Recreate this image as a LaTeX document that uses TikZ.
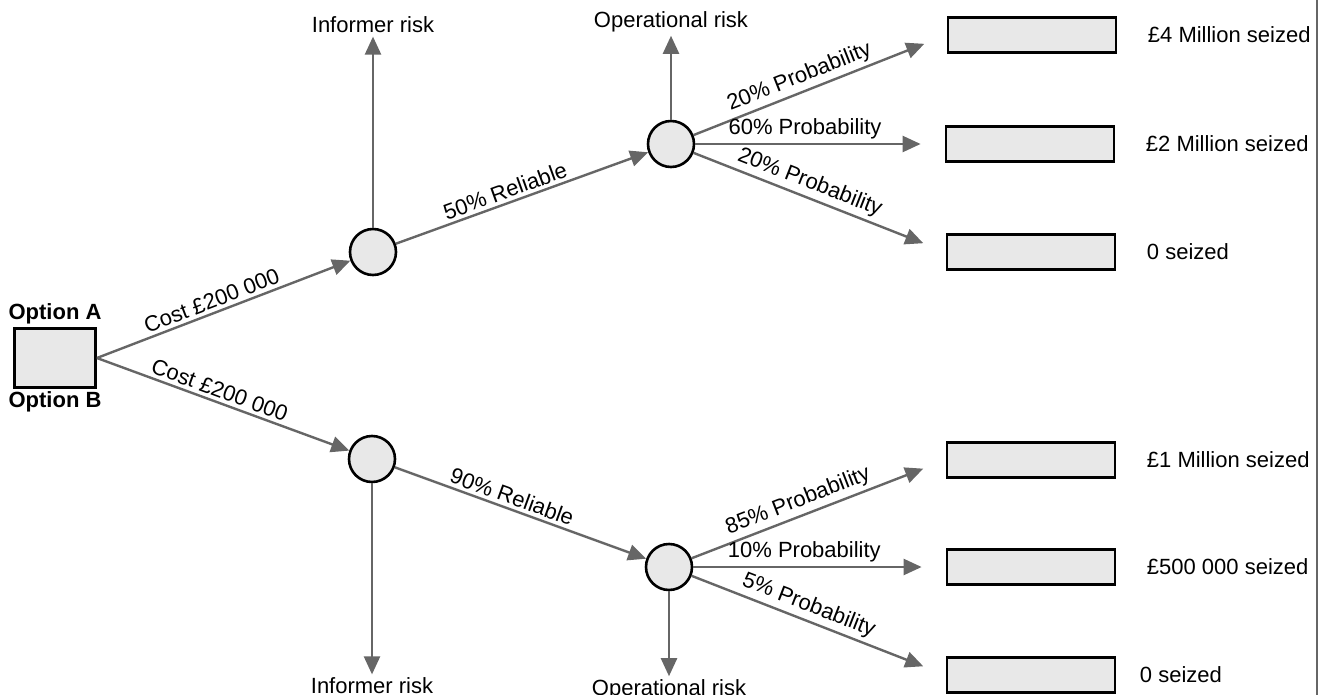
\documentclass[tikz,border=0pt]{standalone}
\usepackage{fontspec}
\setmainfont{Liberation Sans}
\usetikzlibrary{arrows.meta,positioning}
\definecolor{boxgray}{HTML}{E8E8E8}
\definecolor{linegray}{HTML}{666666}

\begin{document}
\begin{tikzpicture}[x=1pt,y=-1pt,font=\fontsize{22}{26}\selectfont,
	decision/.style={draw=black,line width=2.8pt,fill=boxgray,minimum width=81pt,minimum height=59pt},
	chance/.style={circle,draw=black,line width=2.6pt,fill=boxgray,minimum size=46pt,inner sep=0pt},
	payoff/.style={draw=black,line width=2.8pt,fill=boxgray,minimum width=168pt,minimum height=35pt},
	branch/.style={draw=linegray,line width=2.4pt,-{Triangle[length=18pt,width=16pt]}},
	optlabel/.style={font=\fontsize{22}{26}\selectfont\bfseries}]
	\useasboundingbox (0,0) rectangle (1321,695);
	\draw[linegray,line width=2pt] (1317,0) -- (1317,695);

	% decision and chance nodes
	\node[decision] (opt) at (55,358) {};
	\node[optlabel,above=0pt of opt] (optA) {Option A};
	\node[optlabel,below=-1pt of opt] (optB) {Option B};
	\node[chance] (c1) at (373,252) {};
	\node[chance] (c2) at (372,459) {};
	\node[chance] (c3) at (671,144) {};
	\node[chance] (c4) at (669,567) {};

	% outcomes
	\node[payoff] (p1) at (1032,35) {};
	\node[payoff] (p2) at (1030,144) {};
	\node[payoff] (p3) at (1031,252) {};
	\node[payoff] (p4) at (1031,460) {};
	\node[payoff] (p5) at (1031,567) {};
	\node[payoff] (p6) at (1031,675) {};
	\node[right=27pt of p1] {£4 Million seized};
	\node[right=27pt of p2] {£2 Million seized};
	\node[right=27pt of p3] {0 seized};
	\node[right=27pt of p4] {£1 Million seized};
	\node[right=27pt of p5] {£500 000 seized};
	\node[right=20pt of p6] {0 seized};

	% risks
	\node (ir1) at (373,25) {Informer risk};
	\node (or1) at (671,22) {Operational risk};
	\node (ir2) at (372,686) {Informer risk};
	\node (or2) at (669,690) {Operational risk};
	\draw[branch] (c1) -- (ir1);
	\draw[branch] (c3) -- (or1);
	\draw[branch] (c2) -- (ir2);
	\draw[branch] (c4) -- (or2);

	% branches
	\draw[branch] (opt.east) -- node[sloped,above,pos=0.47] {Cost £200 000} (c1);
	\draw[branch] (opt.east) -- node[sloped,above,pos=0.47] {Cost £200 000} (c2);
	\draw[branch] (c1) -- node[sloped,above,pos=0.45] {50\% Reliable} (c3);
	\draw[branch] (c2) -- node[sloped,above,pos=0.45] {90\% Reliable} (c4);
	\draw[branch,shorten >=24pt] (c3) -- node[sloped,above,pos=0.44] {20\% Probability} (p1.west);
	\draw[branch,shorten >=24pt] (c3) -- node[sloped,above,pos=0.44] {60\% Probability} (p2.west);
	\draw[branch,shorten >=24pt] (c3) -- node[sloped,above,pos=0.44] {20\% Probability} (p3.west);
	\draw[branch,shorten >=24pt] (c4) -- node[sloped,above,pos=0.44] {85\% Probability} (p4.west);
	\draw[branch,shorten >=24pt] (c4) -- node[sloped,above,pos=0.44] {10\% Probability} (p5.west);
	\draw[branch,shorten >=24pt] (c4) -- node[sloped,above,pos=0.44] {5\% Probability} (p6.west);
\end{tikzpicture}
\end{document}
